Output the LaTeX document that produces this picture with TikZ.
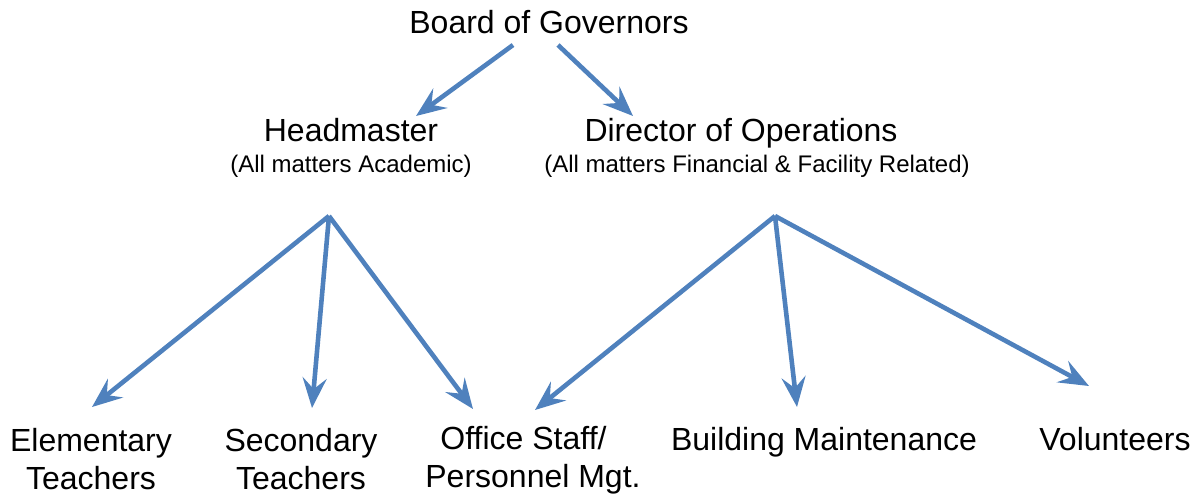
\documentclass[tikz,border=0pt]{standalone}
\usepackage{fontspec}
\setmainfont{Liberation Sans}
\usepackage{xcolor}
\usepackage{tikz}
\usetikzlibrary{arrows.meta}
\definecolor{arrowblue}{RGB}{79,129,189}
\tikzstyle{role} = [inner sep=0pt, anchor=base, font=\fontsize{16}{19}\selectfont]
\tikzstyle{remit} = [inner sep=0pt, anchor=base, font=\fontsize{12}{14}\selectfont]
\tikzstyle{staff} = [inner sep=0pt, anchor=north, align=center, font=\fontsize{16}{19}\selectfont]
\tikzstyle{arrow} = [line width=2.3pt, draw=arrowblue, -{Stealth[length=15pt, width=12pt, inset=5.5pt]}]

\begin{document}
\begin{tikzpicture}[x=0.5pt, y=-0.5pt]
		\useasboundingbox (0,0) rectangle (1204,495);
		
		% Top of the chart
		\node (board) [role] at (549,33) {Board of Governors};
		\node (head) [role] at (351,141) {Headmaster};
		\node (headnote) [remit] at ([yshift=-15.5pt]head.base) {(All matters Academic)};
		\node (director) [role] at (741,141) {Director of Operations};
		\node (dirnote) [remit] at ([xshift=8pt, yshift=-15.5pt]director.base) {(All matters Financial \& Facility Related)};
		
		% Branch points
		\coordinate (headjoin) at ([xshift=-11pt, yshift=-22pt]headnote.base);
		\coordinate (dirjoin) at ([xshift=9pt, yshift=-22pt]dirnote.base);
		
		% Staff groups
		\node (elementary) [staff] at (91,428) {Elementary\\Teachers};
		\node (secondary) [staff] at (301,428) {Secondary\\Teachers};
		\node (office) [staff] at (533,426) {Office Staff/\hspace*{9.5pt}\\Personnel Mgt.};
		\node (building) [staff] at (824,427) {Building Maintenance};
		\node (volunteers) [staff] at (1115,427) {Volunteers};
		
		% Arrows from the board
		\draw [arrow] ([xshift=-18pt, yshift=-6pt]board.base) -- ([xshift=32.5pt, yshift=12.5pt]head.base);
		\draw [arrow] ([xshift=4.5pt, yshift=-6pt]board.base) -- ([xshift=-54pt, yshift=12.5pt]director.base);
		
		% Arrows for headmaster
		\draw [arrow] (headjoin) -- ([xshift=0.5pt, yshift=10.5pt]elementary.north);
		\draw [arrow] (headjoin) -- ([xshift=5.5pt, yshift=10pt]secondary.north);
		\draw [arrow] (headjoin) -- ([xshift=-30pt, yshift=8.5pt]office.north);
		
		% Arrows for director of operations
		\draw [arrow] (dirjoin) -- ([xshift=1pt, yshift=8pt]office.north);
		\draw [arrow] (dirjoin) -- ([xshift=-13.5pt, yshift=10pt]building.north);
		\draw [arrow] (dirjoin) -- ([xshift=-13pt, yshift=20.5pt]volunteers.north);
		
	\end{tikzpicture}
\end{document}
